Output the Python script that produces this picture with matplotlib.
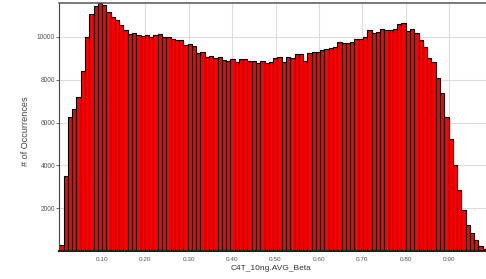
import numpy as np
import matplotlib
matplotlib.use("Agg")
from matplotlib import pyplot as plt

# histogram counts per bin (100 bins)
counts = [310, 3490, 6280, 6635, 7180, 8400, 9970, 11085, 11425, 11580,
          11470, 11160, 10930, 10775, 10540, 10310, 10120, 10185, 10075, 10030,
          10075, 9970, 10075, 10120, 9970, 9970, 9920, 9845, 9845, 9610,
          9660, 9565, 9225, 9300, 9040, 9115, 8990, 9070, 8915, 8870,
          8945, 8835, 8975, 8945, 8870, 8870, 8760, 8870, 8790, 8835,
          8990, 9070, 8835, 9070, 8990, 9175, 9175, 8870, 9225, 9270,
          9300, 9380, 9425, 9455, 9505, 9765, 9690, 9720, 9765, 9875,
          9920, 9970, 10310, 10155, 10230, 10385, 10340, 10310, 10355, 10575,
          10650, 10275, 10385, 10155, 9845, 9505, 8990, 8835, 8060, 7365,
          6250, 5225, 4000, 2835, 1940, 1210, 855, 510, 230, 80]
beta_min = 0.002
beta_max = 0.987
xticks = [0.1, 0.2, 0.3, 0.4, 0.5, 0.6, 0.7, 0.8, 0.9]
xticklabels = ["0.10", "0.20", "0.30", "0.40", "0.50", "0.60", "0.70", "0.80", "0.90"]
yticks = [2000, 4000, 6000, 8000, 10000]

plt.rcParams['font.family'] = ['Liberation Sans', 'DejaVu Sans']

edges = np.linspace(beta_min, beta_max, len(counts) + 1)

fig = plt.figure(figsize=(4.86, 2.79), dpi=100)
ax = fig.add_axes([59.3/486, 27.8/279, (487-59.3)/486, (276.5-27.8)/279])
ax.bar(edges[:-1], counts, width=np.diff(edges), align="edge",
       color="#ff0000", edgecolor="black", linewidth=0.8, zorder=2)

ax.set_xlim(beta_min, beta_max)
ax.set_ylim(0, 11600)
ax.set_xticks(xticks)
ax.set_xticklabels(xticklabels)
ax.set_yticks(yticks)
ax.grid(True, color="#dcdcdc", linewidth=0.8, zorder=0)
ax.set_axisbelow(True)
ax.tick_params(axis="x", length=0, pad=4, labelsize=4.6, labelcolor="#555555")
ax.tick_params(axis="y", length=2, width=0.6, pad=1, labelsize=4.8,
               labelcolor="#555555", color="#555555")

for side in ["top", "right"]:
    ax.spines[side].set_color("#555555")
    ax.spines[side].set_linewidth(1.1)
ax.spines["left"].set_color("#444444")
ax.spines["left"].set_linewidth(0.8)
ax.spines["bottom"].set_color("#222222")
ax.spines["bottom"].set_linewidth(1.5)

fig.text(271/486, 1 - 268/279, "C4T_10ng.AVG_Beta", ha="center", va="center",
         fontsize=6, color="#333333")
fig.text(25.7/486, 1 - 130.8/279, "# of Occurrences", ha="center", va="center",
         rotation=90, fontsize=6.6, color="#444444")

fig.savefig("out.png", dpi=100)
